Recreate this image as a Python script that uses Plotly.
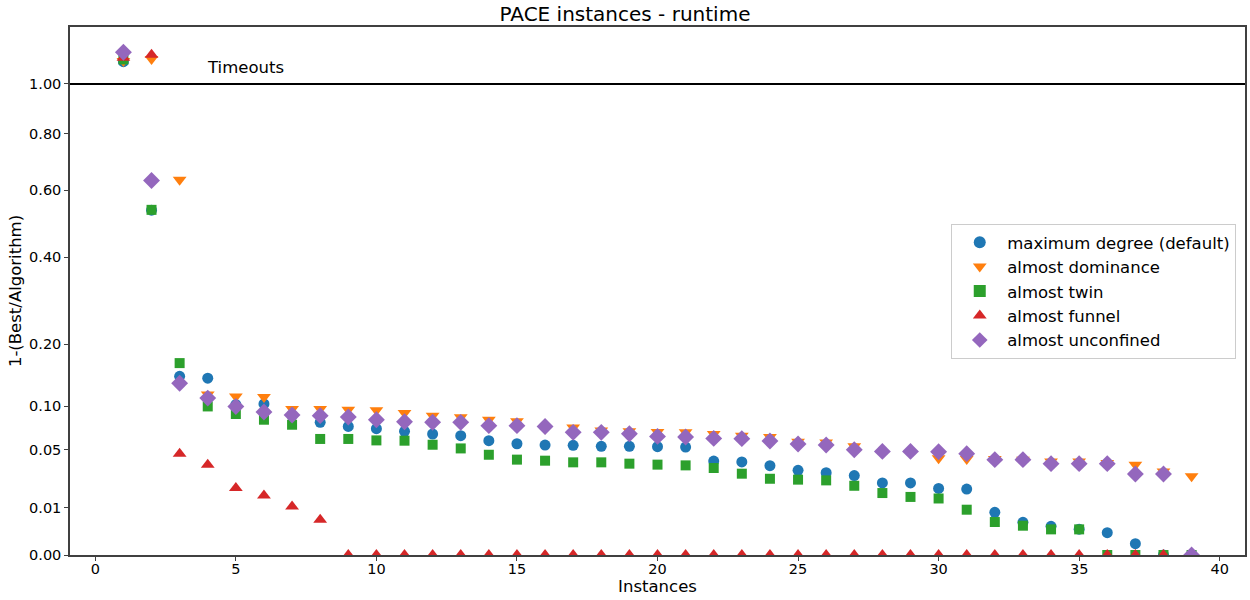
import numpy as np
import plotly.graph_objects as go

# Instance index (1..39)
instances = list(range(1, 40))

# 1-(Best/Algorithm) per branching rule; values > 1 mark timeouts
max_degree = [1.097, 0.536, 0.144, 0.141, 0.102, 0.1028, 0.088, 0.0793, 0.0745, 0.0719,
              0.0689, 0.066, 0.0642, 0.0589, 0.0558, 0.0545, 0.0542, 0.0532, 0.0532, 0.0529,
              0.0525, 0.0398, 0.039, 0.036, 0.0323, 0.0305, 0.0284, 0.0234, 0.0234, 0.020,
              0.0196, 0.0082, 0.0048, 0.0037, 0.003, 0.00224, 0.00058, 0.0, 0.0]
almost_dominance = [1.10, 1.109, 0.635, 0.116, 0.1134, 0.1125, 0.0961, 0.096, 0.0952, 0.0943,
                    0.0909, 0.0875, 0.0854, 0.0825, 0.0805, 0.072, 0.0734, 0.070, 0.0689, 0.0682,
                    0.0678, 0.066, 0.0642, 0.0628, 0.0579, 0.0571, 0.0532, 0.0469, 0.0469, 0.0421,
                    0.0416, 0.0416, 0.041, 0.0395, 0.0395, 0.0381, 0.0368, 0.0315, 0.0279]
almost_twin = [1.107, 0.537, 0.166, 0.0995, 0.0896, 0.0825, 0.0765, 0.0607, 0.0607, 0.0592,
               0.0589, 0.0548, 0.0512, 0.0453, 0.041, 0.0401, 0.0387, 0.0387, 0.0376, 0.0368,
               0.0362, 0.0341, 0.0298, 0.0262, 0.0256, 0.0251, 0.0216, 0.0173, 0.0152, 0.0144,
               0.00925, 0.0049, 0.00387, 0.00296, 0.00296, 0.0, 0.0, 0.0, 0.0]
almost_funnel = [1.115, 1.128, 0.0463, 0.0368, 0.0202, 0.0159, 0.01065, 0.0056, 0.0, 0.0,
                 0.0, 0.0, 0.0, 0.0, 0.0, 0.0, 0.0, 0.0, 0.0, 0.0,
                 0.0, 0.0, 0.0, 0.0, 0.0, 0.0, 0.0, 0.0, 0.0, 0.0,
                 0.0, 0.0, 0.0, 0.0, 0.0, 0.0, 0.0, 0.0, 0.0]
almost_unconfined = [1.139, 0.632, 0.133, 0.111, 0.0995, 0.0922, 0.0884, 0.0875, 0.0858, 0.0825,
                     0.0801, 0.0795, 0.0793, 0.0754, 0.0754, 0.0745, 0.0678, 0.0678, 0.0663, 0.0634,
                     0.0628, 0.0613, 0.061, 0.0586, 0.0555, 0.0545, 0.05, 0.0484, 0.0484, 0.0481,
                     0.0463, 0.041, 0.041, 0.0376, 0.0376, 0.0376, 0.0296, 0.0296, 0.0]

y_ticks = [0.0, 0.01, 0.05, 0.10, 0.20, 0.40, 0.60, 0.80, 1.00]
x_ticks = [0, 5, 10, 15, 20, 25, 30, 35, 40]

series = [
    ("maximum degree (default)", max_degree, "#1f77b4", "circle", 11),
    ("almost dominance", almost_dominance, "#ff7f0e", "triangle-down", 12),
    ("almost twin", almost_twin, "#2ca02c", "square", 10),
    ("almost funnel", almost_funnel, "#d62728", "triangle-up", 12),
    ("almost unconfined", almost_unconfined, "#9467bd", "diamond", 13),
]

FONT = "DejaVu Sans"
fig = go.Figure()

# square-root scale: plot sqrt(value) on a linear axis
for name, vals, color, sym, size in series:
    fig.add_trace(go.Scatter(
        x=instances, y=np.sqrt(np.array(vals)), mode="markers", name=name,
        marker=dict(color=color, symbol=sym, size=size, line=dict(width=0)),
        cliponaxis=True,
    ))

# timeout threshold
fig.add_shape(type="line", xref="paper", x0=0, x1=1, yref="y", y0=1.0, y1=1.0,
              line=dict(color="black", width=2))
fig.add_annotation(x=4, y=np.sqrt(1.05), xref="x", yref="y", text="Timeouts",
                   showarrow=False, xanchor="left", yanchor="bottom",
                   yshift=-7, xshift=-3,
                   font=dict(family=FONT, size=16.5, color="black"))

axis_common = dict(showline=True, linecolor="#404040", linewidth=1.5, mirror=True,
                   ticks="outside", ticklen=4, tickwidth=1.2, tickcolor="#404040",
                   showgrid=False, zeroline=False,
                   tickfont=dict(family=FONT, size=14.5, color="black"))

fig.update_layout(
    width=1250, height=600,
    paper_bgcolor="white", plot_bgcolor="white",
    margin=dict(l=70, r=3, t=27, b=45),
    title=dict(text="PACE instances - runtime", x=0.5, xanchor="center",
               y=0.988, yanchor="top",
               font=dict(family=FONT, size=20, color="black")),
    xaxis=dict(range=[-0.9, 40.9], tickvals=x_ticks,
               ticktext=[str(t) for t in x_ticks],
               ticklabelstandoff=-4,
               title=dict(text="Instances", standoff=0,
                          font=dict(family=FONT, size=16.5, color="black")),
               **axis_common),
    yaxis=dict(range=[0, 1.121], tickvals=list(np.sqrt(y_ticks)),
               ticktext=[f"{t:.2f}" for t in y_ticks],
               title=dict(text="1-(Best/Algorithm)", standoff=3,
                          font=dict(family=FONT, size=16.5, color="black")),
               **axis_common),
    legend=dict(x=0.75, y=0.627, xanchor="left", yanchor="top",
                bgcolor="white", bordercolor="#cccccc", borderwidth=1,
                font=dict(family=FONT, size=16.5, color="black"),
                itemwidth=45, itemsizing="constant"),
    showlegend=True,
)

fig.write_html("out.html")
